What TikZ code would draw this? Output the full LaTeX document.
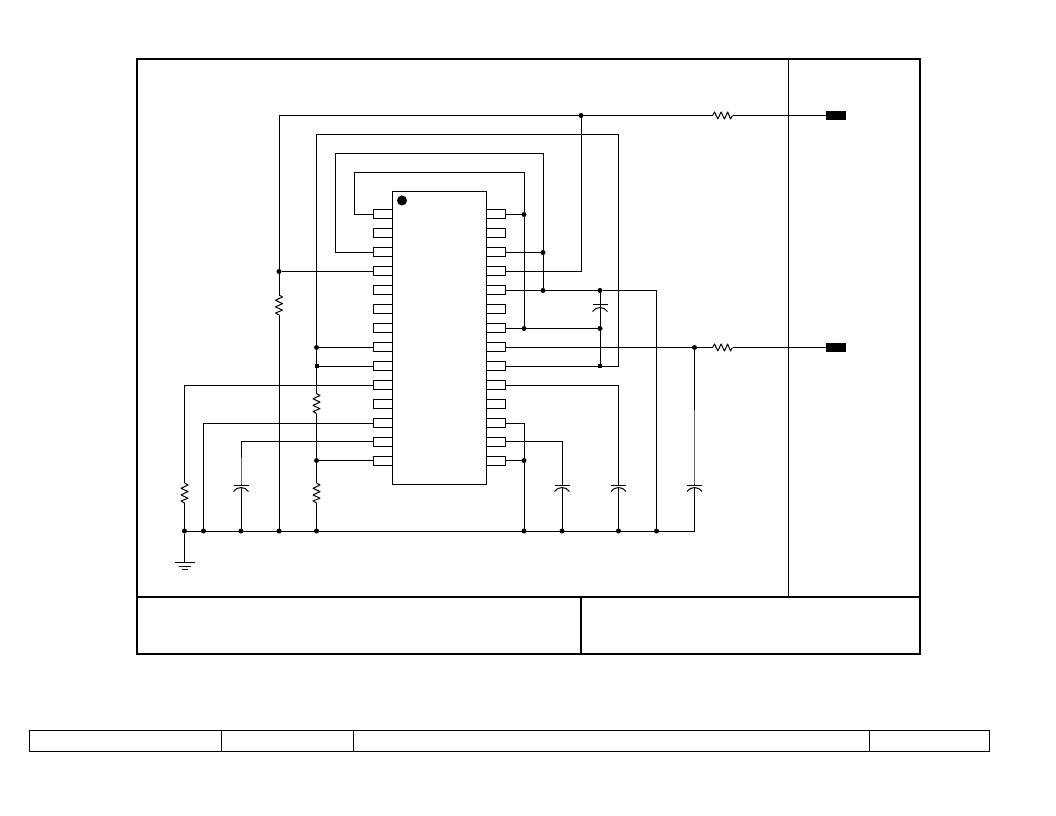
\documentclass[tikz,border=0pt]{standalone}
\usetikzlibrary{positioning, calc}

% symbols drawn inside their nodes, origin at the node centre
\newcommand{\zigH}{\draw[line join=round] (-10,0) -- (-8,-3.5) -- (-4.7,3.5) -- (-1.4,-3.5) -- (1.9,3.5) -- (5.2,-3.5) -- (8,3.5) -- (10,0);}
\newcommand{\zigV}{\draw[line join=round] (0,-10) -- (3.5,-8) -- (-3.5,-4.7) -- (3.5,-1.4) -- (-3.5,1.9) -- (3.5,5.2) -- (-3.5,8) -- (0,10);}
\newcommand{\capSym}{
    \draw (0,-5) -- (0,-3.5);
    \draw (-7.5,-3.5) -- (7.5,-3.5);
    \draw (-7.5,3) .. controls (-4,-2.3) and (4,-2.3) .. (7.5,3);
    \draw (0,-1) -- (0,5);
}
\newcommand{\gndSym}{
    \draw (0,-5) -- (0,-3.5);
    \draw (-10,-3.5) -- (10,-3.5);
    \draw (-6,0) -- (6,0);
    \draw (-3,3.5) -- (3,3.5);
}

\begin{document}
\begin{tikzpicture}[
    x=0.75pt, y=-0.75pt,
    line width=0.75pt,
    % --- styles ---
    pinbox/.style={
            draw,
            fill=white,
            outer sep=0pt,
            inner sep=0pt,
            minimum width=14.25pt,
            minimum height=6.75pt
        },
    chipbox/.style={
            draw,
            outer sep=0pt,
            inner sep=0pt,
            minimum width=70.5pt,
            minimum height=219.75pt
        },
    wireDot/.style={circle, fill=black, inner sep=0pt, minimum size=3.75pt, outer sep=0pt},
    wireSq/.style={rectangle, fill=black, inner sep=0pt, minimum size=3pt, outer sep=0pt},
    resH/.style={
            inner sep=0pt, outer sep=0pt,
            minimum width=15pt, minimum height=7.5pt,
            path picture={\begin{scope}[shift={(path picture bounding box.center)}]\zigH\end{scope}}
        },
    resV/.style={
            inner sep=0pt, outer sep=0pt,
            minimum width=7.5pt, minimum height=15pt,
            path picture={\begin{scope}[shift={(path picture bounding box.center)}]\zigV\end{scope}}
        },
    capUp/.style={
            inner sep=0pt, outer sep=0pt,
            minimum width=13.5pt, minimum height=7.5pt,
            path picture={\begin{scope}[shift={(path picture bounding box.center)}]\capSym\end{scope}}
        },
    capDown/.style={
            inner sep=0pt, outer sep=0pt,
            minimum width=13.5pt, minimum height=7.5pt,
            path picture={\begin{scope}[shift={(path picture bounding box.center)}, yscale=-1]\capSym\end{scope}}
        },
    gndbox/.style={
            inner sep=0pt, outer sep=0pt,
            minimum width=16.5pt, minimum height=7.5pt,
            path picture={\begin{scope}[shift={(path picture bounding box.center)}]\gndSym\end{scope}}
        },
    padbox/.style={fill=black, inner sep=0pt, outer sep=0pt, minimum width=15pt, minimum height=6.75pt},
    faintLead/.style={draw=black!60, line width=0.6pt}
    ]

    \useasboundingbox (0,0) rectangle (1056,816);

    % 1. Frame and title blocks
    \draw[line width=1.5pt] (137,59) rectangle (920,654);
    \draw[line width=1.5pt] (137,597) -- (920,597);
    \draw[line width=1.5pt] (581,597) -- (581,654);
    \draw (788.5,59) -- (788.5,597);
    \draw (29.5,730.5) rectangle (989.5,751.5);
    \foreach \x in {221.5,353.5,869.5}
        \draw (\x,730.5) -- (\x,751.5);

    % 2. Chip with its pins
    \node[chipbox] (chip) at (439.5,338) {};
    \foreach \n/\y in {1/214.5,2/233.5,3/252.5,4/271.5,5/290.5,6/309.5,7/328.5,8/347.5,9/366.5,10/385,11/404,12/423,13/441.5,14/460.5} {
        \node[pinbox, anchor=east] (L\n) at (392.5,\y) {};
        \node[pinbox, anchor=west] (R\n) at (486.5,\y) {};
    }
    \node[circle, fill=black, inner sep=0pt, minimum size=7.5pt] (mark) at (402,200.5) {};

    % 3. Parts
    \node[resH] (resTop) at (722.5,115.5) {};
    \node[resH] (resMid) at (722.5,347.5) {};
    \node[resV] (resA) at (279,305) {};
    \node[resV] (resB) at (316.5,403.5) {};
    \node[resV] (resC) at (316.5,493) {};
    \node[resV] (resD) at (184.5,493) {};
    \node[capDown] (capA) at (600,308.5) {};
    \node[capUp] (capB) at (241,488.5) {};
    \node[capUp] (capC) at (562,488.5) {};
    \node[capUp] (capD) at (618.5,488.5) {};
    \node[capUp] (capE) at (694.5,488.5) {};
    \node[padbox] (padTop) at (836,115.5) {};
    \node[padbox] (padMid) at (836,347.5) {};
    \node[gndbox] (gnd) at (184.5,566) {};

    % 4. Junctions
    \node[wireDot] (dTop) at (581,115.5) {};
    \node[wireDot] (dFeed) at (279,271.5) {};
    \node[wireDot] (dR1) at (524,214.5) {};
    \node[wireDot] (dR3) at (543,252.5) {};
    \node[wireDot] (dR5) at (543,290.5) {};
    \node[wireDot] (dCapTop) at (600,290.5) {};
    \node[wireDot] (dR7) at (524,328.5) {};
    \node[wireDot] (dCapBot) at (600,328.5) {};
    \node[wireDot] (dOut) at (694.5,347.5) {};
    \node[wireDot] (dL8) at (316.5,347.5) {};
    \node[wireSq] (sL9) at (316.5,366.5) {};
    \node[wireSq] (sR9) at (600,366.5) {};
    \node[wireDot] (dL14) at (316.5,460.5) {};
    \node[wireDot] (dR14) at (524,460.5) {};
    \foreach \name/\x in {gA/184.5,gB/203.5,gC/241,gD/279,gE/316.5,gF/524,gG/562,gH/618.5,gI/656.5}
        \node[wireDot] (\name) at (\x,531) {};

    % free corners of the long wires
    \coordinate (loopA) at (354.5,172.5);
    \coordinate (loopB) at (335.5,153.5);
    \coordinate (loopC) at (316.5,134.5);
    \coordinate (loopD) at (618.5,366.5);
    \coordinate (railEnd) at (694.5,531);
    \coordinate (leadB) at (241,457);
    \coordinate (leadE) at (694.5,410);

    % 5. Wires, top half
    \draw (dFeed) |- (resTop.west);
    \draw (resTop.east) -- (padTop.west);
    \draw (L4.west) -- (dFeed);
    \draw (dFeed) -- (resA.north);
    \draw (resA.south) -- (gD);
    \draw (R4.east) -| (dTop);
    \draw (L1.west) -| (loopA);
    \draw (loopA) -| (dR1);
    \draw (R1.east) -- (dR1);
    \draw (dR1) -- (dR7);
    \draw (L3.west) -| (loopB);
    \draw (loopB) -| (dR3);
    \draw (R3.east) -- (dR3);
    \draw (dR3) -- (dR5);
    \draw (R5.east) -- (dCapTop);
    \draw (dCapTop) -| (gI);
    \draw (dCapTop) -- (capA.south);
    \draw (capA.north) -- (dCapBot);
    \draw (dCapBot) -- (sR9);
    \draw (R7.east) -- (dCapBot);
    \draw (loopC) -- (dL8);
    \draw (dL8) -- (sL9);
    \draw (sL9) -- (resB.north);
    \draw (resB.south) -- (dL14);
    \draw (dL14) -- (resC.north);
    \draw (resC.south) -- (gE);
    \draw (L8.west) -- (dL8);
    \draw (L9.west) -- (sL9);
    \draw (L14.west) -- (dL14);
    \draw (loopC) -| (loopD);
    \draw (loopD) -- (R9.east);
    \draw (R8.east) -- (dOut);
    \draw (dOut) -- (resMid.west);
    \draw (resMid.east) -- (padMid.west);

    % 6. Wires, bottom half
    \draw (dOut) -- (leadE);
    \draw[faintLead] (leadE) -- (capE.north);
    \draw (capE.south) -- (railEnd);
    \draw (R10.east) -| (capD.north);
    \draw (capD.south) -- (gH);
    \draw (R12.east) -| (gF);
    \draw (R14.east) -- (dR14);
    \draw (R13.east) -| (capC.north);
    \draw (capC.south) -- (gG);
    \draw (L10.west) -| (resD.north);
    \draw (resD.south) -- (gA);
    \draw (L12.west) -| (gB);
    \draw (L13.west) -| (leadB);
    \draw[faintLead] (leadB) -- (capB.north);
    \draw (capB.south) -- (gC);
    \draw (gA) -- (railEnd);
    \draw (gA) -- (gnd.north);

\end{tikzpicture}
\end{document}
